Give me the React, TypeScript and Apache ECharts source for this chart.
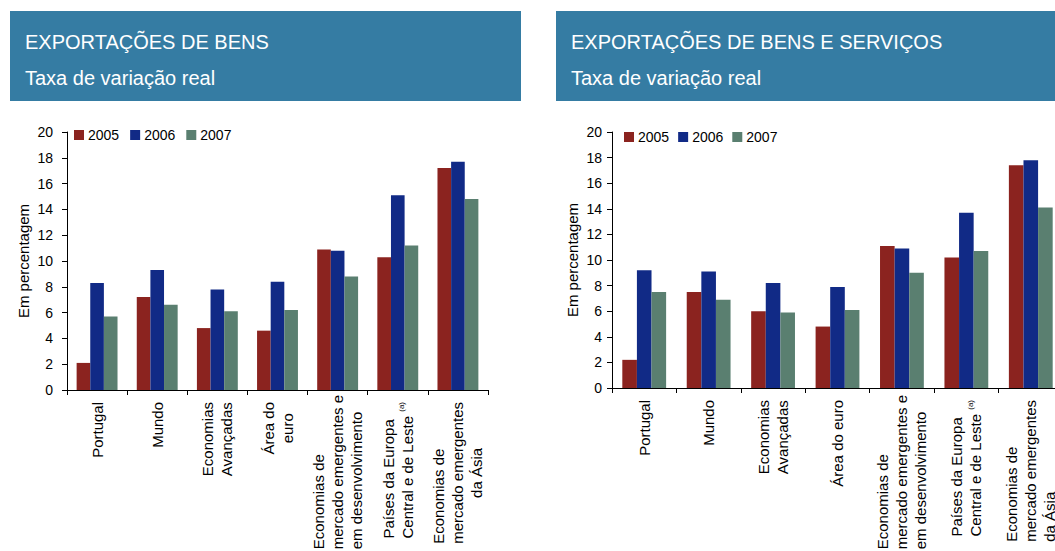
import React, { useEffect, useRef } from "react";
import * as echarts from "echarts";

const years = ["2005", "2006", "2007"];
const colors = ["#8b231f", "#112a86", "#5a7f70"];

const catsGoods = [
  "Portugal",
  "Mundo",
  "Economias\nAvançadas",
  "Área do\neuro",
  "Economias de\nmercado emergentes e\nem desenvolvimento",
  "Países da Europa\nCentral e de Leste (a)",
  "Economias de\nmercado emergentes\nda Ásia",
];
const catsGoodsServ = [
  "Portugal",
  "Mundo",
  "Economias\nAvançadas",
  "Área do euro",
  "Economias de\nmercado emergentes e\nem desenvolvimento",
  "Países da Europa\nCentral e de Leste (a)",
  "Economias de\nmercado emergentes\nda Ásia",
];

const goods2005 = [2.1, 7.2, 4.8, 4.6, 10.9, 10.3, 17.2];
const goods2006 = [8.3, 9.3, 7.8, 8.4, 10.8, 15.1, 17.7];
const goods2007 = [5.7, 6.6, 6.1, 6.2, 8.8, 11.2, 14.8];

const gs2005 = [2.2, 7.5, 6.0, 4.8, 11.1, 10.2, 17.4];
const gs2006 = [9.2, 9.1, 8.2, 7.9, 10.9, 13.7, 17.8];
const gs2007 = [7.5, 6.9, 5.9, 6.1, 9.0, 10.7, 14.1];

const titles = ["EXPORTAÇÕES DE BENS", "EXPORTAÇÕES DE BENS E SERVIÇOS"];
const subtitle = "Taxa de variação real";
const yName = "Em percentagem";

const FONT = "Arial, 'Liberation Sans', sans-serif";
const HEADER = "#357ca3";
const LABEL_SIZE = 15;
const SUP_SIZE = 8;

let measureCtx: CanvasRenderingContext2D | null = null;
function textWidth(s: string, size: number) {
  if (!measureCtx) measureCtx = document.createElement("canvas").getContext("2d");
  if (!measureCtx) return s.length * size * 0.55;
  measureCtx.font = `${size}px ${FONT}`;
  return measureCtx.measureText(s).width;
}

// label block: top sits 12px under the axis, unless it is too long to fit,
// then it is pushed up (not closer than 3px) so it stays inside the picture.
function fmtLabel(centered: boolean, axisY: number) {
  const margin = 3;
  const preferred = 12;
  const bottomLimit = 549;
  return (v: string) => {
    const lines = v.split("\n");
    let maxW = 0;
    lines.forEach((line) => {
      let w;
      if (line.endsWith(" (a)")) w = textWidth(line.slice(0, -4) + " ", LABEL_SIZE) + textWidth("(a)", SUP_SIZE);
      else w = textWidth(line, LABEL_SIZE);
      maxW = Math.max(maxW, w);
    });
    const top = Math.max(axisY + margin, Math.min(axisY + preferred, bottomLimit - maxW));
    const pad = Math.max(0, Math.min(9, Math.round(top - axisY - margin)));
    return lines
      .map((line) => {
        const st = (centered && line.length < 8 ? "c" : "l") + pad;
        if (line.endsWith(" (a)")) {
          return `{l0|${line.slice(0, -4)} }{s${pad}|(a)}`;
        }
        return `{${st}|${line}}`;
      })
      .join("\n");
  };
}

const rich: any = {};
for (let i = 0; i <= 9; i++) {
  rich["l" + i] = { align: "left", fontSize: LABEL_SIZE, lineHeight: 19, fontFamily: FONT, color: "#000", padding: [0, i, 0, 0] };
  rich["c" + i] = { align: "center", fontSize: LABEL_SIZE, lineHeight: 19, fontFamily: FONT, color: "#000", padding: [0, i, 0, 0] };
  rich["s" + i] = { align: "left", fontSize: SUP_SIZE, lineHeight: 19, verticalAlign: "top", fontFamily: FONT, color: "#000", padding: [0, i, 0, 0] };
}

export default function App() {
  const ref = useRef<HTMLDivElement>(null);
  useEffect(() => {
    if (!ref.current) return;
    const chart = echarts.init(ref.current, undefined, { renderer: "svg" });

    const xAxisBase = (idx: number, cats: string[], centered: boolean, axisY: number) => ({
      type: "category",
      gridIndex: idx,
      data: cats,
      axisLine: { lineStyle: { color: "#000", width: 1 } },
      axisTick: { show: true, length: 5, lineStyle: { color: "#000" } },
      axisLabel: {
        interval: 0,
        rotate: 90,
        margin: 3,
        formatter: fmtLabel(centered, axisY),
        rich,
        fontFamily: FONT,
        fontSize: LABEL_SIZE,
        color: "#000",
      },
    });
    const yAxisBase = (idx: number, margin: number, nameGap: number) => ({
      type: "value",
      gridIndex: idx,
      min: 0,
      max: 20,
      interval: 2,
      name: yName,
      nameLocation: "middle",
      nameGap,
      nameTextStyle: { fontFamily: FONT, fontSize: 15, color: "#000" },
      axisLine: { show: true, lineStyle: { color: "#000", width: 1 } },
      axisTick: { show: true, length: 5, lineStyle: { color: "#000" } },
      splitLine: { show: false },
      axisLabel: { margin, fontFamily: FONT, fontSize: 14, color: "#000" },
    });
    const seriesFor = (idx: number, data: number[][], gap: string) =>
      data.map((d, i) => ({
        name: years[i],
        type: "bar",
        xAxisIndex: idx,
        yAxisIndex: idx,
        data: d,
        barGap: "0%",
        barCategoryGap: gap,
        itemStyle: { color: colors[i] },
      }));

    const legendBase = (left: number, top: number, gap: number) => ({
      left,
      top,
      padding: 0,
      itemWidth: 10,
      itemHeight: 10,
      itemGap: gap,
      icon: "rect",
      data: years,
      textStyle: { fontFamily: FONT, fontSize: 14, color: "#000", padding: [0, 0, 0, -1] },
    });

    const option: any = {
      animation: false,
      color: colors,
      textStyle: { fontFamily: FONT },
      grid: [
        { left: 67, width: 421, top: 132, height: 258, outerBoundsMode: "none", containLabel: false },
        { left: 612, width: 451, top: 132, height: 256, outerBoundsMode: "none", containLabel: false },
      ],
      legend: [legendBase(74, 128, 11), legendBase(624, 130, 9)],
      xAxis: [xAxisBase(0, catsGoods, true, 390), xAxisBase(1, catsGoodsServ, false, 388)],
      yAxis: [yAxisBase(0, 14, 36), yAxisBase(1, 10, 32)],
      series: [
        ...seriesFor(0, [goods2005, goods2006, goods2007], "32%"),
        ...seriesFor(1, [gs2005, gs2006, gs2007], "32%"),
      ],
      graphic: [
        { type: "rect", left: 10, top: 11, shape: { width: 511, height: 90 }, style: { fill: HEADER }, silent: true },
        { type: "rect", left: 556, top: 11, shape: { width: 499, height: 90 }, style: { fill: HEADER }, silent: true },
        {
          type: "text",
          x: 25,
          y: 42,
          style: { text: titles[0], fill: "#fff", font: `20px ${FONT}`, textVerticalAlign: "middle" },
        },
        {
          type: "text",
          x: 25,
          y: 78,
          style: { text: subtitle, fill: "#fff", font: `20px ${FONT}`, textVerticalAlign: "middle" },
        },
        {
          type: "text",
          x: 571,
          y: 42,
          style: { text: titles[1], fill: "#fff", font: `20px ${FONT}`, textVerticalAlign: "middle" },
        },
        {
          type: "text",
          x: 571,
          y: 78,
          style: { text: subtitle, fill: "#fff", font: `20px ${FONT}`, textVerticalAlign: "middle" },
        },
      ],
    };
    chart.setOption(option);
    return () => chart.dispose();
  }, []);

  return (
    <div
      ref={ref}
      style={{ position: "fixed", left: 0, top: 0, width: 1055, height: 551, background: "#fff", overflow: "hidden" }}
    />
  );
}
